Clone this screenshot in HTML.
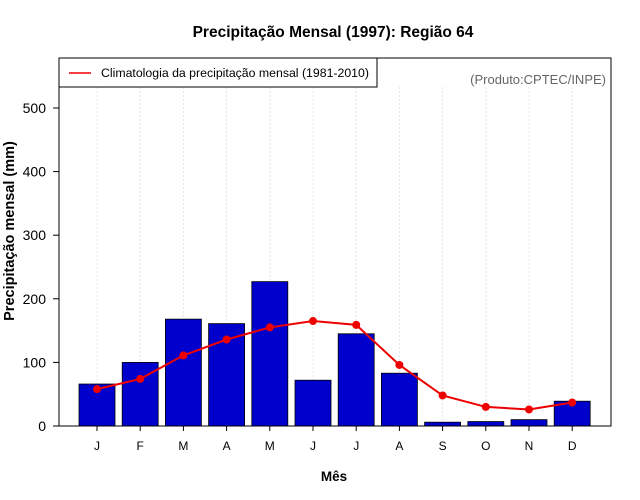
<!DOCTYPE html>
<html><head><meta charset="utf-8"><style>body{margin:0;background:#fff}svg{display:block;font-family:"Liberation Sans",sans-serif}</style></head>
<body>
<svg id="c" width="640" height="500" viewBox="0 0 640 500">
<text x="333" y="37" text-anchor="middle" font-size="15.5" font-weight="bold">Precipitação Mensal (1997): Região 64</text>
<g id="grid"></g>
<g id="bars"></g>
<g id="line"></g>
<rect x="59" y="58" width="552" height="368" fill="none" stroke="#000"/>
<g id="yax"></g>
<g id="xax"></g>
<text x="14" y="231" transform="rotate(-90 14 231)" text-anchor="middle" font-size="14.5" font-weight="bold">Precipitação mensal (mm)</text>
<text x="334" y="481" text-anchor="middle" font-size="13.5" font-weight="bold">Mês</text>
<g>
<rect x="59" y="58" width="318" height="29" fill="#fff" stroke="#000"/>
<line x1="69" y1="73" x2="91" y2="73" stroke="#e00" stroke-width="1.5"/>
<text x="101" y="77" font-size="12.3">Climatologia da precipitação mensal (1981-2010)</text>
</g>
<text x="606" y="84" text-anchor="end" font-size="13" fill="#666">(Produto:CPTEC/INPE)</text>
</svg>
<script>
const months=["J","F","M","A","M","J","J","A","S","O","N","D"];
const precip=[66,100,168,161,227,72,145,83,6,7,10,39];
const clim=[58,74,111,136,155,165,159,96,48,30,26,37];
const yTicks=[0,100,200,300,400,500];
const NS="http://www.w3.org/2000/svg";
const y=v=>426-v*0.636;
const x=i=>97+i*43.2;
function mk(t,a,p){const e=document.createElementNS(NS,t);for(const k in a)e.setAttribute(k,a[k]);document.getElementById(p).appendChild(e);return e;}
months.forEach((m,i)=>{
 const g=mk("line",{x1:x(i),x2:x(i),y1:87,y2:426,stroke:"#e4e4e4","stroke-dasharray":"2,2"},"grid");
 
 
 const b=mk("rect",{x:x(i)-18,y:y(precip[i]),width:36,height:426-y(precip[i]),fill:"#0000cc",stroke:"#000","stroke-width":0.8},"bars");
 
 
 const t=mk("line",{x1:x(i),x2:x(i),y1:426,y2:431,stroke:"#000"},"xax");
 
 
 const l=mk("text",{x:x(i),y:450,"text-anchor":"middle","font-size":12},"xax");
 l.textContent=m;
 
 
});
const pl=mk("polyline",{points:clim.map((v,i)=>x(i)+","+y(v)).join(" "),fill:"none",stroke:"#e00","stroke-width":2},"line");


clim.forEach((v,i)=>{
 const c=mk("circle",{cx:x(i),cy:y(v),r:4,fill:"#e00"},"line");
 
 
});
const ax=mk("line",{x1:59,x2:59,y1:y(0),y2:y(500),stroke:"#000"},"yax");


yTicks.forEach(v=>{
 const t=mk("line",{x1:53,x2:59,y1:y(v),y2:y(v),stroke:"#000"},"yax");
 
 
 const l=mk("text",{x:46,y:y(v)+5,"text-anchor":"end","font-size":14},"yax");
 l.textContent=v;
 
 
});
</script>
</body></html>
